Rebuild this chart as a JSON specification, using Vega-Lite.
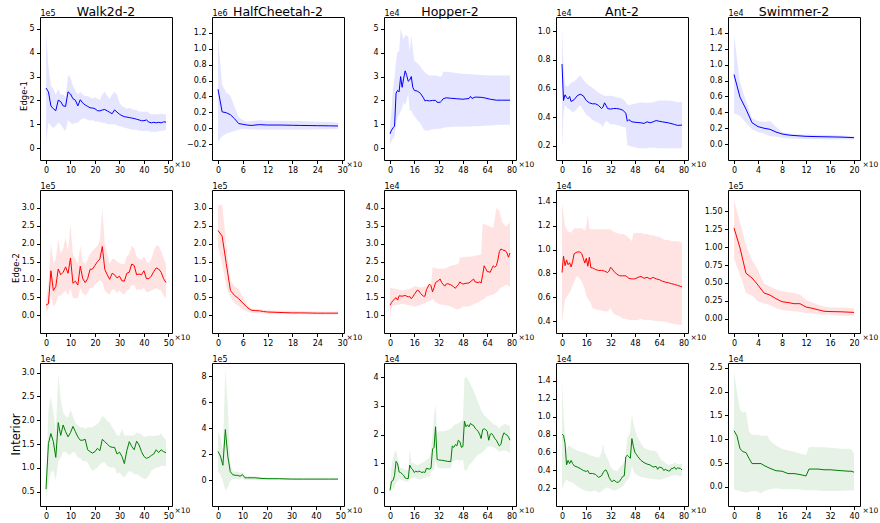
{
"$schema": "https://vega.github.io/schema/vega-lite/v6.json",
"padding": {"left": 9, "top": 5, "right": 0, "bottom": 0},
"config": {
 "font": "DejaVu Sans",
 "view": {"stroke": "#000", "strokeWidth": 1},
 "axis": {"grid": false, "domain": false, "tickColor": "#000", "tickSize": 3.5, "labelFontSize": 8, "labelColor": "#000", "labelPadding": 2.5, "labelFlush": false, "labelOverlap": false, "titleFontWeight": "normal", "titleColor": "#000", "labelFont": "DejaVu Sans", "titleFont": "DejaVu Sans"},
 "axisTop": {"labels": false, "ticks": false, "domain": false, "titleX": 0, "titleY": -2, "titleAlign": "left", "titleBaseline": "alphabetic", "titleAngle": 0, "titleFontSize": 8, "titlePadding": 0},
 "axisBottom": {"titleX": 134, "titleY": 6, "titleAlign": "left", "titleBaseline": "alphabetic", "titleAngle": 0, "titleFontSize": 7.5},
 "title": {"fontSize": 12.5, "fontWeight": "normal", "color": "#000", "font": "DejaVu Sans", "offset": -9}
},
"data": {"values": [
{"p":"w1","x":0,"y":2.52,"lo":0.24,"hi":4.79},{"p":"w1","x":1,"y":2.36,"lo":1.06,"hi":3.43},{"p":"w1","x":2,"y":1.77,"lo":0.95,"hi":2.6},{"p":"w1","x":3,"y":1.65,"lo":0.83,"hi":2.48},{"p":"w1","x":4,"y":1.57,"lo":0.95,"hi":2.25},{"p":"w1","x":5,"y":2.01,"lo":1.06,"hi":2.48},{"p":"w1","x":6,"y":1.95,"lo":1.0,"hi":2.25},{"p":"w1","x":7,"y":1.77,"lo":0.83,"hi":2.25},{"p":"w1","x":8,"y":1.75,"lo":0.71,"hi":2.13},{"p":"w1","x":9,"y":2.36,"lo":1.18,"hi":3.07},{"p":"w1","x":10,"y":2.27,"lo":1.06,"hi":2.95},{"p":"w1","x":11,"y":2.07,"lo":1.0,"hi":2.6},{"p":"w1","x":12,"y":2.01,"lo":1.06,"hi":2.42},{"p":"w1","x":13,"y":1.77,"lo":1.06,"hi":2.25},{"p":"w1","x":14,"y":2.03,"lo":1.18,"hi":2.36},{"p":"w1","x":15,"y":1.89,"lo":1.24,"hi":2.25},{"p":"w1","x":16,"y":1.81,"lo":1.24,"hi":2.19},{"p":"w1","x":17,"y":1.75,"lo":1.18,"hi":2.19},{"p":"w1","x":18,"y":1.69,"lo":1.16,"hi":2.13},{"p":"w1","x":19,"y":1.68,"lo":1.18,"hi":2.07},{"p":"w1","x":20,"y":1.65,"lo":1.12,"hi":2.13},{"p":"w1","x":21,"y":1.57,"lo":1.12,"hi":2.07},{"p":"w1","x":22,"y":1.56,"lo":1.09,"hi":2.03},{"p":"w1","x":23,"y":1.6,"lo":1.06,"hi":2.25},{"p":"w1","x":24,"y":1.62,"lo":1.06,"hi":2.36},{"p":"w1","x":25,"y":1.56,"lo":1.0,"hi":2.19},{"p":"w1","x":26,"y":1.5,"lo":1.0,"hi":2.07},{"p":"w1","x":27,"y":1.44,"lo":1.0,"hi":2.25},{"p":"w1","x":28,"y":1.6,"lo":1.0,"hi":2.36},{"p":"w1","x":29,"y":1.51,"lo":0.95,"hi":2.25},{"p":"w1","x":30,"y":1.42,"lo":0.92,"hi":1.89},{"p":"w1","x":31,"y":1.36,"lo":0.89,"hi":1.77},{"p":"w1","x":32,"y":1.32,"lo":0.85,"hi":1.71},{"p":"w1","x":33,"y":1.3,"lo":0.83,"hi":1.65},{"p":"w1","x":34,"y":1.28,"lo":0.8,"hi":1.68},{"p":"w1","x":35,"y":1.26,"lo":0.77,"hi":1.65},{"p":"w1","x":36,"y":1.24,"lo":0.77,"hi":1.6},{"p":"w1","x":37,"y":1.21,"lo":0.77,"hi":1.6},{"p":"w1","x":38,"y":1.18,"lo":0.73,"hi":1.54},{"p":"w1","x":39,"y":1.15,"lo":0.73,"hi":1.54},{"p":"w1","x":40,"y":1.15,"lo":0.71,"hi":1.51},{"p":"w1","x":41,"y":1.18,"lo":0.73,"hi":1.54},{"p":"w1","x":42,"y":1.09,"lo":0.71,"hi":1.48},{"p":"w1","x":43,"y":1.06,"lo":0.69,"hi":1.42},{"p":"w1","x":44,"y":1.08,"lo":0.69,"hi":1.42},{"p":"w1","x":45,"y":1.06,"lo":0.69,"hi":1.42},{"p":"w1","x":46,"y":1.08,"lo":0.71,"hi":1.42},{"p":"w1","x":47,"y":1.06,"lo":0.73,"hi":1.44},{"p":"w1","x":48,"y":1.1,"lo":0.73,"hi":1.42},{"p":"w1","x":49,"y":1.09,"lo":0.77,"hi":1.42},
{"p":"h1","x":0,"y":0.49,"lo":-0.17,"hi":1.13},{"p":"h1","x":1,"y":0.206,"lo":-0.1,"hi":0.55},{"p":"h1","x":2,"y":0.195,"lo":-0.07,"hi":0.45},{"p":"h1","x":3,"y":0.17,"lo":-0.05,"hi":0.41},{"p":"h1","x":4,"y":0.12,"lo":-0.035,"hi":0.27},{"p":"h1","x":5,"y":0.058,"lo":-0.02,"hi":0.14},{"p":"h1","x":6,"y":0.05,"lo":-0.01,"hi":0.1},{"p":"h1","x":7,"y":0.04,"lo":-0.012,"hi":0.085},{"p":"h1","x":8,"y":0.035,"lo":-0.015,"hi":0.09},{"p":"h1","x":10,"y":0.045,"lo":-0.02,"hi":0.1},{"p":"h1","x":12,"y":0.04,"lo":-0.02,"hi":0.095},{"p":"h1","x":15,"y":0.04,"lo":-0.02,"hi":0.095},{"p":"h1","x":18,"y":0.037,"lo":-0.02,"hi":0.092},{"p":"h1","x":20,"y":0.035,"lo":-0.02,"hi":0.09},{"p":"h1","x":24,"y":0.032,"lo":-0.015,"hi":0.082},{"p":"h1","x":27,"y":0.03,"lo":-0.013,"hi":0.077},{"p":"h1","x":29,"y":0.028,"lo":-0.01,"hi":0.07},
{"p":"p1","x":0,"y":0.6,"lo":0.16,"hi":0.9},{"p":"p1","x":1,"y":0.75,"lo":0.3,"hi":1.6},{"p":"p1","x":2,"y":0.85,"lo":0.41,"hi":2.5},{"p":"p1","x":3,"y":0.92,"lo":0.5,"hi":3.0},{"p":"p1","x":4,"y":2.3,"lo":1.0,"hi":3.68},{"p":"p1","x":5,"y":2.42,"lo":1.29,"hi":4.05},{"p":"p1","x":6,"y":2.36,"lo":1.4,"hi":4.05},{"p":"p1","x":7,"y":3.0,"lo":1.55,"hi":5.0},{"p":"p1","x":8,"y":2.55,"lo":1.7,"hi":4.8},{"p":"p1","x":9,"y":2.93,"lo":1.92,"hi":4.56},{"p":"p1","x":10,"y":3.24,"lo":1.8,"hi":4.75},{"p":"p1","x":11,"y":3.05,"lo":2.0,"hi":4.7},{"p":"p1","x":12,"y":2.8,"lo":2.3,"hi":4.69},{"p":"p1","x":13,"y":2.86,"lo":1.55,"hi":4.05},{"p":"p1","x":14,"y":3.0,"lo":1.6,"hi":4.75},{"p":"p1","x":15,"y":2.55,"lo":1.42,"hi":4.18},{"p":"p1","x":16,"y":2.42,"lo":1.35,"hi":3.68},{"p":"p1","x":18,"y":2.39,"lo":1.17,"hi":3.56},{"p":"p1","x":20,"y":2.3,"lo":1.04,"hi":3.43},{"p":"p1","x":22,"y":2.11,"lo":0.79,"hi":3.24},{"p":"p1","x":23,"y":1.98,"lo":0.75,"hi":3.18},{"p":"p1","x":24,"y":2.0,"lo":0.73,"hi":3.12},{"p":"p1","x":26,"y":1.98,"lo":0.75,"hi":3.05},{"p":"p1","x":28,"y":2.0,"lo":0.79,"hi":3.05},{"p":"p1","x":30,"y":2.0,"lo":0.8,"hi":3.05},{"p":"p1","x":31,"y":1.92,"lo":0.8,"hi":3.02},{"p":"p1","x":33,"y":1.92,"lo":0.82,"hi":3.0},{"p":"p1","x":34,"y":1.98,"lo":0.82,"hi":3.0},{"p":"p1","x":35,"y":2.07,"lo":0.85,"hi":3.2},{"p":"p1","x":37,"y":2.11,"lo":0.86,"hi":3.2},{"p":"p1","x":40,"y":2.09,"lo":0.89,"hi":3.18},{"p":"p1","x":44,"y":2.07,"lo":0.89,"hi":3.15},{"p":"p1","x":48,"y":2.05,"lo":0.9,"hi":3.12},{"p":"p1","x":52,"y":2.08,"lo":0.91,"hi":3.1},{"p":"p1","x":53,"y":2.17,"lo":0.91,"hi":3.1},{"p":"p1","x":54,"y":2.08,"lo":0.92,"hi":3.1},{"p":"p1","x":56,"y":2.14,"lo":0.92,"hi":3.08},{"p":"p1","x":60,"y":2.13,"lo":0.93,"hi":3.07},{"p":"p1","x":62,"y":2.11,"lo":0.94,"hi":3.06},{"p":"p1","x":66,"y":2.05,"lo":0.95,"hi":3.05},{"p":"p1","x":70,"y":2.01,"lo":0.97,"hi":3.05},{"p":"p1","x":74,"y":2.01,"lo":0.98,"hi":3.05},{"p":"p1","x":79,"y":2.01,"lo":0.98,"hi":3.05},
{"p":"a1","x":0,"y":0.771,"lo":0.17,"hi":1.02},{"p":"a1","x":1,"y":0.516,"lo":0.427,"hi":0.77},{"p":"a1","x":2,"y":0.556,"lo":0.482,"hi":0.627},{"p":"a1","x":3,"y":0.538,"lo":0.47,"hi":0.62},{"p":"a1","x":4,"y":0.527,"lo":0.46,"hi":0.616},{"p":"a1","x":5,"y":0.544,"lo":0.455,"hi":0.63},{"p":"a1","x":6,"y":0.509,"lo":0.44,"hi":0.64},{"p":"a1","x":8,"y":0.522,"lo":0.438,"hi":0.649},{"p":"a1","x":10,"y":0.549,"lo":0.46,"hi":0.67},{"p":"a1","x":12,"y":0.56,"lo":0.482,"hi":0.693},{"p":"a1","x":14,"y":0.549,"lo":0.45,"hi":0.66},{"p":"a1","x":16,"y":0.516,"lo":0.416,"hi":0.638},{"p":"a1","x":18,"y":0.5,"lo":0.4,"hi":0.62},{"p":"a1","x":20,"y":0.493,"lo":0.382,"hi":0.605},{"p":"a1","x":22,"y":0.493,"lo":0.37,"hi":0.59},{"p":"a1","x":24,"y":0.482,"lo":0.36,"hi":0.571},{"p":"a1","x":26,"y":0.46,"lo":0.345,"hi":0.56},{"p":"a1","x":27,"y":0.47,"lo":0.327,"hi":0.555},{"p":"a1","x":28,"y":0.5,"lo":0.36,"hi":0.549},{"p":"a1","x":29,"y":0.482,"lo":0.37,"hi":0.55},{"p":"a1","x":30,"y":0.46,"lo":0.37,"hi":0.549},{"p":"a1","x":32,"y":0.456,"lo":0.349,"hi":0.549},{"p":"a1","x":34,"y":0.46,"lo":0.35,"hi":0.545},{"p":"a1","x":36,"y":0.46,"lo":0.345,"hi":0.538},{"p":"a1","x":38,"y":0.456,"lo":0.34,"hi":0.533},{"p":"a1","x":40,"y":0.449,"lo":0.331,"hi":0.527},{"p":"a1","x":42,"y":0.427,"lo":0.327,"hi":0.505},{"p":"a1","x":43,"y":0.371,"lo":0.204,"hi":0.49},{"p":"a1","x":44,"y":0.382,"lo":0.2,"hi":0.482},{"p":"a1","x":46,"y":0.367,"lo":0.193,"hi":0.49},{"p":"a1","x":48,"y":0.364,"lo":0.19,"hi":0.493},{"p":"a1","x":50,"y":0.362,"lo":0.182,"hi":0.5},{"p":"a1","x":52,"y":0.36,"lo":0.182,"hi":0.504},{"p":"a1","x":54,"y":0.356,"lo":0.182,"hi":0.5},{"p":"a1","x":56,"y":0.367,"lo":0.182,"hi":0.5},{"p":"a1","x":58,"y":0.36,"lo":0.185,"hi":0.502},{"p":"a1","x":60,"y":0.367,"lo":0.185,"hi":0.504},{"p":"a1","x":62,"y":0.376,"lo":0.184,"hi":0.51},{"p":"a1","x":64,"y":0.371,"lo":0.182,"hi":0.516},{"p":"a1","x":66,"y":0.367,"lo":0.182,"hi":0.516},{"p":"a1","x":70,"y":0.36,"lo":0.182,"hi":0.516},{"p":"a1","x":74,"y":0.349,"lo":0.182,"hi":0.51},{"p":"a1","x":76,"y":0.342,"lo":0.182,"hi":0.504},{"p":"a1","x":79,"y":0.344,"lo":0.182,"hi":0.507},
{"p":"s1","x":0,"y":0.877,"lo":0.39,"hi":1.38},{"p":"s1","x":1,"y":0.59,"lo":0.354,"hi":0.78},{"p":"s1","x":2,"y":0.44,"lo":0.27,"hi":0.54},{"p":"s1","x":3,"y":0.27,"lo":0.186,"hi":0.33},{"p":"s1","x":4,"y":0.22,"lo":0.152,"hi":0.29},{"p":"s1","x":5,"y":0.2,"lo":0.135,"hi":0.28},{"p":"s1","x":6,"y":0.186,"lo":0.1,"hi":0.29},{"p":"s1","x":7,"y":0.152,"lo":0.095,"hi":0.22},{"p":"s1","x":8,"y":0.128,"lo":0.08,"hi":0.15},{"p":"s1","x":9,"y":0.115,"lo":0.072,"hi":0.138},{"p":"s1","x":10,"y":0.108,"lo":0.067,"hi":0.128},{"p":"s1","x":12,"y":0.098,"lo":0.063,"hi":0.12},{"p":"s1","x":14,"y":0.094,"lo":0.06,"hi":0.118},{"p":"s1","x":16,"y":0.091,"lo":0.059,"hi":0.115},{"p":"s1","x":18,"y":0.088,"lo":0.058,"hi":0.108},{"p":"s1","x":20,"y":0.081,"lo":0.057,"hi":0.1},
{"p":"w2","x":0,"y":0.28,"lo":0.1,"hi":0.39},{"p":"w2","x":1,"y":0.32,"lo":0.17,"hi":0.91},{"p":"w2","x":2,"y":1.24,"lo":0.54,"hi":2.02},{"p":"w2","x":3,"y":0.69,"lo":0.24,"hi":1.43},{"p":"w2","x":4,"y":0.8,"lo":0.32,"hi":1.57},{"p":"w2","x":5,"y":1.29,"lo":0.54,"hi":2.13},{"p":"w2","x":6,"y":1.13,"lo":0.54,"hi":1.72},{"p":"w2","x":7,"y":1.2,"lo":0.61,"hi":1.87},{"p":"w2","x":8,"y":1.35,"lo":0.69,"hi":2.17},{"p":"w2","x":9,"y":1.17,"lo":0.54,"hi":1.8},{"p":"w2","x":10,"y":1.6,"lo":0.76,"hi":2.54},{"p":"w2","x":11,"y":0.89,"lo":0.47,"hi":1.72},{"p":"w2","x":12,"y":0.95,"lo":0.47,"hi":1.57},{"p":"w2","x":13,"y":0.84,"lo":0.47,"hi":1.43},{"p":"w2","x":14,"y":1.37,"lo":0.76,"hi":1.94},{"p":"w2","x":15,"y":1.02,"lo":0.61,"hi":1.5},{"p":"w2","x":16,"y":0.91,"lo":0.54,"hi":1.43},{"p":"w2","x":17,"y":1.02,"lo":0.61,"hi":1.57},{"p":"w2","x":18,"y":1.28,"lo":0.76,"hi":1.72},{"p":"w2","x":19,"y":1.29,"lo":0.76,"hi":1.8},{"p":"w2","x":20,"y":1.39,"lo":0.84,"hi":1.87},{"p":"w2","x":21,"y":1.5,"lo":0.91,"hi":1.94},{"p":"w2","x":22,"y":1.57,"lo":0.98,"hi":2.09},{"p":"w2","x":23,"y":1.92,"lo":0.91,"hi":2.98},{"p":"w2","x":24,"y":1.28,"lo":0.69,"hi":2.02},{"p":"w2","x":25,"y":1.13,"lo":0.61,"hi":1.72},{"p":"w2","x":26,"y":1.0,"lo":0.58,"hi":1.43},{"p":"w2","x":27,"y":1.17,"lo":0.72,"hi":1.57},{"p":"w2","x":28,"y":1.13,"lo":0.72,"hi":1.57},{"p":"w2","x":29,"y":1.04,"lo":0.61,"hi":1.5},{"p":"w2","x":30,"y":1.09,"lo":0.69,"hi":1.46},{"p":"w2","x":31,"y":0.96,"lo":0.61,"hi":1.43},{"p":"w2","x":32,"y":0.95,"lo":0.58,"hi":1.43},{"p":"w2","x":33,"y":1.17,"lo":0.69,"hi":1.65},{"p":"w2","x":34,"y":1.2,"lo":0.72,"hi":1.72},{"p":"w2","x":35,"y":1.43,"lo":0.84,"hi":1.94},{"p":"w2","x":36,"y":1.39,"lo":0.84,"hi":1.87},{"p":"w2","x":37,"y":1.13,"lo":0.69,"hi":1.65},{"p":"w2","x":38,"y":1.15,"lo":0.72,"hi":1.57},{"p":"w2","x":39,"y":1.13,"lo":0.72,"hi":1.54},{"p":"w2","x":40,"y":1.24,"lo":0.76,"hi":1.65},{"p":"w2","x":41,"y":1.02,"lo":0.65,"hi":1.5},{"p":"w2","x":42,"y":1.02,"lo":0.65,"hi":1.46},{"p":"w2","x":43,"y":1.09,"lo":0.69,"hi":1.57},{"p":"w2","x":44,"y":1.22,"lo":0.72,"hi":1.8},{"p":"w2","x":45,"y":1.32,"lo":0.76,"hi":1.95},{"p":"w2","x":46,"y":1.29,"lo":0.72,"hi":1.95},{"p":"w2","x":47,"y":1.2,"lo":0.69,"hi":1.8},{"p":"w2","x":48,"y":1.02,"lo":0.54,"hi":1.6},{"p":"w2","x":49,"y":0.91,"lo":0.47,"hi":1.43},
{"p":"h2","x":0,"y":2.37,"lo":1.92,"hi":3.06},{"p":"h2","x":1,"y":2.21,"lo":1.44,"hi":3.1},{"p":"h2","x":2,"y":1.44,"lo":0.81,"hi":2.0},{"p":"h2","x":3,"y":0.69,"lo":0.5,"hi":0.97},{"p":"h2","x":4,"y":0.55,"lo":0.34,"hi":0.81},{"p":"h2","x":5,"y":0.46,"lo":0.245,"hi":0.73},{"p":"h2","x":6,"y":0.34,"lo":0.166,"hi":0.5},{"p":"h2","x":7,"y":0.22,"lo":0.1,"hi":0.3},{"p":"h2","x":8,"y":0.14,"lo":0.063,"hi":0.18},{"p":"h2","x":9,"y":0.126,"lo":0.055,"hi":0.17},{"p":"h2","x":10,"y":0.12,"lo":0.047,"hi":0.166},{"p":"h2","x":11,"y":0.1,"lo":0.045,"hi":0.15},{"p":"h2","x":12,"y":0.087,"lo":0.04,"hi":0.14},{"p":"h2","x":14,"y":0.079,"lo":0.035,"hi":0.13},{"p":"h2","x":16,"y":0.07,"lo":0.03,"hi":0.125},{"p":"h2","x":18,"y":0.063,"lo":0.027,"hi":0.12},{"p":"h2","x":20,"y":0.063,"lo":0.024,"hi":0.118},{"p":"h2","x":24,"y":0.055,"lo":0.02,"hi":0.1},{"p":"h2","x":26,"y":0.055,"lo":0.018,"hi":0.1},{"p":"h2","x":29,"y":0.055,"lo":0.016,"hi":0.1},
{"p":"p2","x":0,"y":1.28,"lo":0.88,"hi":1.77},{"p":"p2","x":1,"y":1.35,"lo":1.24,"hi":1.76},{"p":"p2","x":2,"y":1.41,"lo":1.26,"hi":1.75},{"p":"p2","x":4,"y":1.49,"lo":1.28,"hi":1.73},{"p":"p2","x":5,"y":1.42,"lo":1.28,"hi":1.72},{"p":"p2","x":6,"y":1.54,"lo":1.3,"hi":1.72},{"p":"p2","x":8,"y":1.53,"lo":1.32,"hi":1.69},{"p":"p2","x":10,"y":1.55,"lo":1.3,"hi":1.7},{"p":"p2","x":12,"y":1.51,"lo":1.28,"hi":1.73},{"p":"p2","x":13,"y":1.52,"lo":1.27,"hi":1.74},{"p":"p2","x":14,"y":1.46,"lo":1.26,"hi":1.76},{"p":"p2","x":15,"y":1.51,"lo":1.25,"hi":1.78},{"p":"p2","x":16,"y":1.58,"lo":1.24,"hi":1.81},{"p":"p2","x":18,"y":1.7,"lo":1.25,"hi":1.8},{"p":"p2","x":19,"y":1.68,"lo":1.26,"hi":1.79},{"p":"p2","x":20,"y":1.61,"lo":1.28,"hi":1.77},{"p":"p2","x":22,"y":1.53,"lo":1.32,"hi":1.79},{"p":"p2","x":23,"y":1.53,"lo":1.34,"hi":1.8},{"p":"p2","x":24,"y":1.71,"lo":1.36,"hi":1.81},{"p":"p2","x":26,"y":1.87,"lo":1.4,"hi":1.83},{"p":"p2","x":27,"y":1.82,"lo":1.42,"hi":1.85},{"p":"p2","x":28,"y":1.65,"lo":1.45,"hi":2.34},{"p":"p2","x":29,"y":1.77,"lo":1.4,"hi":2.33},{"p":"p2","x":30,"y":1.91,"lo":1.36,"hi":2.31},{"p":"p2","x":32,"y":1.97,"lo":1.32,"hi":2.3},{"p":"p2","x":33,"y":2.01,"lo":1.3,"hi":2.3},{"p":"p2","x":34,"y":1.91,"lo":1.29,"hi":2.3},{"p":"p2","x":36,"y":1.81,"lo":1.28,"hi":2.3},{"p":"p2","x":37,"y":1.87,"lo":1.27,"hi":2.32},{"p":"p2","x":38,"y":1.88,"lo":1.26,"hi":2.34},{"p":"p2","x":40,"y":1.85,"lo":1.24,"hi":2.38},{"p":"p2","x":42,"y":1.79,"lo":1.2,"hi":2.4},{"p":"p2","x":43,"y":1.75,"lo":1.18,"hi":2.41},{"p":"p2","x":44,"y":1.81,"lo":1.16,"hi":2.42},{"p":"p2","x":45,"y":1.85,"lo":1.17,"hi":2.42},{"p":"p2","x":46,"y":1.93,"lo":1.18,"hi":2.62},{"p":"p2","x":47,"y":1.89,"lo":1.2,"hi":2.62},{"p":"p2","x":48,"y":1.87,"lo":1.24,"hi":2.62},{"p":"p2","x":50,"y":1.89,"lo":1.24,"hi":2.63},{"p":"p2","x":52,"y":1.9,"lo":1.24,"hi":2.63},{"p":"p2","x":54,"y":1.97,"lo":1.28,"hi":2.64},{"p":"p2","x":55,"y":2.01,"lo":1.3,"hi":2.65},{"p":"p2","x":56,"y":1.93,"lo":1.32,"hi":2.66},{"p":"p2","x":58,"y":1.91,"lo":1.36,"hi":2.68},{"p":"p2","x":59,"y":1.93,"lo":1.38,"hi":2.69},{"p":"p2","x":60,"y":1.9,"lo":1.41,"hi":2.7},{"p":"p2","x":61,"y":2.13,"lo":1.43,"hi":3.55},{"p":"p2","x":62,"y":2.38,"lo":1.45,"hi":3.55},{"p":"p2","x":63,"y":2.3,"lo":1.5,"hi":3.53},{"p":"p2","x":64,"y":2.22,"lo":1.53,"hi":3.51},{"p":"p2","x":66,"y":2.2,"lo":1.55,"hi":3.48},{"p":"p2","x":67,"y":2.3,"lo":1.56,"hi":3.46},{"p":"p2","x":68,"y":2.38,"lo":1.57,"hi":3.45},{"p":"p2","x":69,"y":2.34,"lo":1.6,"hi":3.7},{"p":"p2","x":70,"y":2.38,"lo":1.63,"hi":4.0},{"p":"p2","x":71,"y":2.54,"lo":1.67,"hi":3.96},{"p":"p2","x":72,"y":2.78,"lo":1.73,"hi":3.92},{"p":"p2","x":73,"y":2.85,"lo":1.76,"hi":3.76},{"p":"p2","x":74,"y":2.83,"lo":1.79,"hi":3.6},{"p":"p2","x":75,"y":2.81,"lo":1.81,"hi":3.55},{"p":"p2","x":76,"y":2.8,"lo":1.85,"hi":3.47},{"p":"p2","x":77,"y":2.74,"lo":1.84,"hi":3.5},{"p":"p2","x":78,"y":2.62,"lo":1.81,"hi":3.55},{"p":"p2","x":79,"y":2.74,"lo":1.81,"hi":3.6},
{"p":"a2","x":0,"y":0.807,"lo":0.38,"hi":1.39},{"p":"a2","x":1,"y":0.945,"lo":0.49,"hi":1.3},{"p":"a2","x":2,"y":0.865,"lo":0.58,"hi":1.2},{"p":"a2","x":3,"y":0.913,"lo":0.6,"hi":1.17},{"p":"a2","x":4,"y":0.873,"lo":0.62,"hi":1.15},{"p":"a2","x":5,"y":0.89,"lo":0.64,"hi":1.15},{"p":"a2","x":6,"y":0.855,"lo":0.66,"hi":1.14},{"p":"a2","x":7,"y":0.9,"lo":0.7,"hi":1.16},{"p":"a2","x":8,"y":0.966,"lo":0.73,"hi":1.18},{"p":"a2","x":10,"y":0.98,"lo":0.78,"hi":1.18},{"p":"a2","x":12,"y":0.98,"lo":0.75,"hi":1.18},{"p":"a2","x":13,"y":0.966,"lo":0.73,"hi":1.18},{"p":"a2","x":14,"y":0.927,"lo":0.7,"hi":1.17},{"p":"a2","x":15,"y":0.887,"lo":0.66,"hi":1.16},{"p":"a2","x":16,"y":0.927,"lo":0.61,"hi":1.2},{"p":"a2","x":17,"y":0.86,"lo":0.59,"hi":1.3},{"p":"a2","x":18,"y":0.935,"lo":0.57,"hi":1.18},{"p":"a2","x":19,"y":0.847,"lo":0.55,"hi":1.17},{"p":"a2","x":20,"y":0.847,"lo":0.51,"hi":1.17},{"p":"a2","x":22,"y":0.833,"lo":0.5,"hi":1.17},{"p":"a2","x":24,"y":0.825,"lo":0.49,"hi":1.17},{"p":"a2","x":26,"y":0.825,"lo":0.49,"hi":1.17},{"p":"a2","x":28,"y":0.82,"lo":0.48,"hi":1.17},{"p":"a2","x":30,"y":0.807,"lo":0.48,"hi":1.17},{"p":"a2","x":31,"y":0.82,"lo":0.49,"hi":1.17},{"p":"a2","x":32,"y":0.852,"lo":0.51,"hi":1.17},{"p":"a2","x":33,"y":0.838,"lo":0.48,"hi":1.16},{"p":"a2","x":34,"y":0.82,"lo":0.46,"hi":1.15},{"p":"a2","x":36,"y":0.794,"lo":0.45,"hi":1.14},{"p":"a2","x":38,"y":0.78,"lo":0.44,"hi":1.13},{"p":"a2","x":40,"y":0.78,"lo":0.42,"hi":1.13},{"p":"a2","x":42,"y":0.78,"lo":0.42,"hi":1.12},{"p":"a2","x":44,"y":0.759,"lo":0.41,"hi":1.1},{"p":"a2","x":46,"y":0.754,"lo":0.41,"hi":1.07},{"p":"a2","x":47,"y":0.754,"lo":0.41,"hi":1.14},{"p":"a2","x":48,"y":0.754,"lo":0.41,"hi":1.14},{"p":"a2","x":50,"y":0.767,"lo":0.41,"hi":1.14},{"p":"a2","x":52,"y":0.775,"lo":0.42,"hi":1.14},{"p":"a2","x":54,"y":0.759,"lo":0.41,"hi":1.13},{"p":"a2","x":56,"y":0.767,"lo":0.41,"hi":1.13},{"p":"a2","x":58,"y":0.754,"lo":0.41,"hi":1.12},{"p":"a2","x":60,"y":0.767,"lo":0.405,"hi":1.12},{"p":"a2","x":62,"y":0.754,"lo":0.4,"hi":1.11},{"p":"a2","x":64,"y":0.748,"lo":0.4,"hi":1.11},{"p":"a2","x":66,"y":0.735,"lo":0.397,"hi":1.09},{"p":"a2","x":68,"y":0.727,"lo":0.395,"hi":1.08},{"p":"a2","x":70,"y":0.722,"lo":0.385,"hi":1.08},{"p":"a2","x":72,"y":0.714,"lo":0.38,"hi":1.07},{"p":"a2","x":74,"y":0.708,"lo":0.375,"hi":1.07},{"p":"a2","x":76,"y":0.7,"lo":0.37,"hi":1.07},{"p":"a2","x":79,"y":0.687,"lo":0.37,"hi":1.06},
{"p":"s2","x":0,"y":1.27,"lo":0.84,"hi":1.66},{"p":"s2","x":1,"y":0.99,"lo":0.61,"hi":1.35},{"p":"s2","x":2,"y":0.635,"lo":0.36,"hi":1.03},{"p":"s2","x":3,"y":0.57,"lo":0.32,"hi":0.82},{"p":"s2","x":4,"y":0.47,"lo":0.24,"hi":0.68},{"p":"s2","x":5,"y":0.36,"lo":0.217,"hi":0.49},{"p":"s2","x":6,"y":0.33,"lo":0.188,"hi":0.45},{"p":"s2","x":7,"y":0.28,"lo":0.146,"hi":0.41},{"p":"s2","x":8,"y":0.238,"lo":0.121,"hi":0.385},{"p":"s2","x":9,"y":0.226,"lo":0.11,"hi":0.37},{"p":"s2","x":10,"y":0.21,"lo":0.104,"hi":0.36},{"p":"s2","x":11,"y":0.21,"lo":0.095,"hi":0.34},{"p":"s2","x":12,"y":0.163,"lo":0.08,"hi":0.26},{"p":"s2","x":13,"y":0.146,"lo":0.072,"hi":0.23},{"p":"s2","x":14,"y":0.125,"lo":0.063,"hi":0.196},{"p":"s2","x":15,"y":0.104,"lo":0.056,"hi":0.17},{"p":"s2","x":16,"y":0.1,"lo":0.05,"hi":0.155},{"p":"s2","x":18,"y":0.096,"lo":0.043,"hi":0.155},{"p":"s2","x":20,"y":0.088,"lo":0.038,"hi":0.146},
{"p":"w3","x":0,"y":0.555,"lo":0.33,"hi":0.7},{"p":"w3","x":1,"y":1.51,"lo":0.67,"hi":2.22},{"p":"w3","x":2,"y":1.72,"lo":0.91,"hi":2.49},{"p":"w3","x":3,"y":1.55,"lo":0.94,"hi":2.16},{"p":"w3","x":4,"y":1.22,"lo":0.74,"hi":1.75},{"p":"w3","x":5,"y":1.95,"lo":1.14,"hi":2.97},{"p":"w3","x":6,"y":1.68,"lo":1.21,"hi":2.43},{"p":"w3","x":7,"y":1.9,"lo":1.34,"hi":2.16},{"p":"w3","x":8,"y":1.76,"lo":1.34,"hi":2.09},{"p":"w3","x":9,"y":1.65,"lo":1.28,"hi":2.05},{"p":"w3","x":10,"y":1.74,"lo":1.28,"hi":2.22},{"p":"w3","x":11,"y":1.87,"lo":1.34,"hi":2.09},{"p":"w3","x":12,"y":1.76,"lo":1.31,"hi":1.95},{"p":"w3","x":13,"y":1.65,"lo":1.21,"hi":1.89},{"p":"w3","x":14,"y":1.58,"lo":1.21,"hi":1.85},{"p":"w3","x":15,"y":1.58,"lo":1.14,"hi":1.85},{"p":"w3","x":16,"y":1.6,"lo":1.14,"hi":1.82},{"p":"w3","x":17,"y":1.38,"lo":1.11,"hi":1.85},{"p":"w3","x":18,"y":1.34,"lo":1.01,"hi":1.85},{"p":"w3","x":19,"y":1.31,"lo":0.94,"hi":1.85},{"p":"w3","x":20,"y":1.34,"lo":0.97,"hi":1.89},{"p":"w3","x":21,"y":1.41,"lo":1.01,"hi":1.92},{"p":"w3","x":22,"y":1.36,"lo":1.07,"hi":1.99},{"p":"w3","x":23,"y":1.6,"lo":1.11,"hi":2.09},{"p":"w3","x":24,"y":1.55,"lo":1.11,"hi":2.05},{"p":"w3","x":25,"y":1.5,"lo":1.04,"hi":1.99},{"p":"w3","x":26,"y":1.45,"lo":1.01,"hi":1.95},{"p":"w3","x":27,"y":1.43,"lo":1.01,"hi":1.85},{"p":"w3","x":28,"y":1.43,"lo":1.01,"hi":1.78},{"p":"w3","x":29,"y":1.29,"lo":0.87,"hi":1.68},{"p":"w3","x":30,"y":1.33,"lo":0.91,"hi":1.68},{"p":"w3","x":31,"y":1.24,"lo":0.84,"hi":1.82},{"p":"w3","x":32,"y":1.09,"lo":0.8,"hi":1.68},{"p":"w3","x":33,"y":1.36,"lo":0.87,"hi":1.68},{"p":"w3","x":34,"y":1.55,"lo":0.94,"hi":1.68},{"p":"w3","x":35,"y":1.45,"lo":0.91,"hi":1.68},{"p":"w3","x":36,"y":1.38,"lo":0.87,"hi":1.68},{"p":"w3","x":37,"y":1.56,"lo":0.87,"hi":1.74},{"p":"w3","x":38,"y":1.48,"lo":0.84,"hi":1.72},{"p":"w3","x":39,"y":1.34,"lo":0.8,"hi":1.7},{"p":"w3","x":40,"y":1.24,"lo":0.77,"hi":1.65},{"p":"w3","x":41,"y":1.2,"lo":0.77,"hi":1.66},{"p":"w3","x":42,"y":1.22,"lo":0.84,"hi":1.68},{"p":"w3","x":43,"y":1.26,"lo":0.94,"hi":1.67},{"p":"w3","x":44,"y":1.29,"lo":0.97,"hi":1.67},{"p":"w3","x":45,"y":1.38,"lo":1.01,"hi":1.68},{"p":"w3","x":46,"y":1.32,"lo":1.01,"hi":1.68},{"p":"w3","x":47,"y":1.38,"lo":1.04,"hi":1.72},{"p":"w3","x":48,"y":1.34,"lo":1.04,"hi":1.65},{"p":"w3","x":49,"y":1.32,"lo":1.04,"hi":1.58},
{"p":"h3","x":0,"y":2.2,"lo":0.65,"hi":3.76},{"p":"h3","x":1,"y":1.84,"lo":0.41,"hi":3.28},{"p":"h3","x":2,"y":1.13,"lo":-0.07,"hi":2.32},{"p":"h3","x":3,"y":3.88,"lo":-0.79,"hi":8.55},{"p":"h3","x":4,"y":1.84,"lo":-0.55,"hi":5.68},{"p":"h3","x":5,"y":0.65,"lo":-0.07,"hi":1.37},{"p":"h3","x":6,"y":0.41,"lo":0.05,"hi":0.65},{"p":"h3","x":7,"y":0.36,"lo":0.05,"hi":0.65},{"p":"h3","x":8,"y":0.36,"lo":0.05,"hi":0.65},{"p":"h3","x":9,"y":0.29,"lo":0.04,"hi":0.53},{"p":"h3","x":10,"y":0.41,"lo":0.17,"hi":0.6},{"p":"h3","x":11,"y":0.17,"lo":0.0,"hi":0.35},{"p":"h3","x":12,"y":0.17,"lo":0.0,"hi":0.29},{"p":"h3","x":15,"y":0.17,"lo":0.0,"hi":0.29},{"p":"h3","x":18,"y":0.12,"lo":0.0,"hi":0.22},{"p":"h3","x":20,"y":0.1,"lo":0.0,"hi":0.22},{"p":"h3","x":25,"y":0.1,"lo":0.0,"hi":0.17},{"p":"h3","x":30,"y":0.07,"lo":0.0,"hi":0.17},{"p":"h3","x":35,"y":0.07,"lo":0.0,"hi":0.12},{"p":"h3","x":40,"y":0.07,"lo":0.0,"hi":0.12},{"p":"h3","x":45,"y":0.07,"lo":0.0,"hi":0.12},{"p":"h3","x":49,"y":0.07,"lo":0.0,"hi":0.12},
{"p":"p3","x":0,"y":0.05,"lo":0.0,"hi":0.2},{"p":"p3","x":1,"y":0.36,"lo":0.1,"hi":0.88},{"p":"p3","x":2,"y":0.39,"lo":0.1,"hi":1.19},{"p":"p3","x":3,"y":0.57,"lo":0.15,"hi":1.39},{"p":"p3","x":4,"y":1.06,"lo":0.31,"hi":1.44},{"p":"p3","x":5,"y":0.98,"lo":0.36,"hi":1.19},{"p":"p3","x":6,"y":0.69,"lo":0.46,"hi":0.88},{"p":"p3","x":7,"y":0.67,"lo":0.43,"hi":0.85},{"p":"p3","x":8,"y":0.62,"lo":0.41,"hi":0.82},{"p":"p3","x":9,"y":0.57,"lo":0.38,"hi":0.8},{"p":"p3","x":10,"y":0.48,"lo":0.36,"hi":0.77},{"p":"p3","x":11,"y":0.46,"lo":0.36,"hi":0.77},{"p":"p3","x":12,"y":0.46,"lo":0.36,"hi":0.77},{"p":"p3","x":13,"y":0.93,"lo":0.46,"hi":1.49},{"p":"p3","x":14,"y":0.82,"lo":0.46,"hi":1.03},{"p":"p3","x":15,"y":0.77,"lo":0.48,"hi":1.0},{"p":"p3","x":16,"y":0.67,"lo":0.52,"hi":0.98},{"p":"p3","x":17,"y":0.72,"lo":0.48,"hi":0.95},{"p":"p3","x":18,"y":0.69,"lo":0.44,"hi":0.93},{"p":"p3","x":19,"y":0.72,"lo":0.43,"hi":0.95},{"p":"p3","x":20,"y":0.7,"lo":0.43,"hi":0.98},{"p":"p3","x":21,"y":0.67,"lo":0.45,"hi":1.0},{"p":"p3","x":22,"y":0.69,"lo":0.46,"hi":1.03},{"p":"p3","x":23,"y":0.67,"lo":0.48,"hi":1.06},{"p":"p3","x":24,"y":0.82,"lo":0.52,"hi":1.13},{"p":"p3","x":25,"y":0.8,"lo":0.52,"hi":1.15},{"p":"p3","x":26,"y":0.79,"lo":0.52,"hi":1.19},{"p":"p3","x":27,"y":0.82,"lo":0.67,"hi":1.39},{"p":"p3","x":28,"y":1.49,"lo":0.72,"hi":2.01},{"p":"p3","x":29,"y":1.55,"lo":0.77,"hi":2.68},{"p":"p3","x":30,"y":2.27,"lo":1.08,"hi":3.04},{"p":"p3","x":31,"y":1.13,"lo":0.88,"hi":2.06},{"p":"p3","x":32,"y":1.11,"lo":0.82,"hi":2.11},{"p":"p3","x":34,"y":1.1,"lo":0.82,"hi":2.11},{"p":"p3","x":36,"y":1.08,"lo":0.82,"hi":2.11},{"p":"p3","x":38,"y":1.06,"lo":0.82,"hi":2.16},{"p":"p3","x":40,"y":1.05,"lo":0.82,"hi":2.2},{"p":"p3","x":41,"y":1.6,"lo":1.03,"hi":2.25},{"p":"p3","x":42,"y":1.55,"lo":1.08,"hi":2.32},{"p":"p3","x":43,"y":1.65,"lo":1.1,"hi":2.35},{"p":"p3","x":44,"y":1.6,"lo":1.13,"hi":2.37},{"p":"p3","x":45,"y":1.8,"lo":1.1,"hi":2.4},{"p":"p3","x":46,"y":1.75,"lo":1.08,"hi":2.42},{"p":"p3","x":47,"y":1.55,"lo":1.1,"hi":2.47},{"p":"p3","x":48,"y":1.58,"lo":1.13,"hi":2.53},{"p":"p3","x":49,"y":2.47,"lo":0.77,"hi":3.97},{"p":"p3","x":50,"y":2.27,"lo":0.72,"hi":4.02},{"p":"p3","x":51,"y":2.34,"lo":0.8,"hi":3.95},{"p":"p3","x":52,"y":2.27,"lo":0.93,"hi":3.87},{"p":"p3","x":53,"y":2.39,"lo":0.98,"hi":3.76},{"p":"p3","x":54,"y":2.34,"lo":1.03,"hi":3.66},{"p":"p3","x":55,"y":2.32,"lo":1.1,"hi":3.53},{"p":"p3","x":56,"y":2.22,"lo":1.19,"hi":3.4},{"p":"p3","x":57,"y":2.17,"lo":1.24,"hi":3.27},{"p":"p3","x":58,"y":2.11,"lo":1.29,"hi":3.14},{"p":"p3","x":59,"y":2.01,"lo":1.32,"hi":2.99},{"p":"p3","x":60,"y":1.86,"lo":1.34,"hi":2.84},{"p":"p3","x":61,"y":2.17,"lo":1.39,"hi":2.76},{"p":"p3","x":62,"y":2.2,"lo":1.44,"hi":2.68},{"p":"p3","x":63,"y":2.17,"lo":1.5,"hi":2.63},{"p":"p3","x":64,"y":2.11,"lo":1.55,"hi":2.58},{"p":"p3","x":65,"y":1.8,"lo":1.58,"hi":2.52},{"p":"p3","x":66,"y":2.01,"lo":1.6,"hi":2.47},{"p":"p3","x":67,"y":2.03,"lo":1.58,"hi":2.42},{"p":"p3","x":68,"y":1.96,"lo":1.55,"hi":2.37},{"p":"p3","x":69,"y":1.86,"lo":1.52,"hi":2.34},{"p":"p3","x":70,"y":1.8,"lo":1.49,"hi":2.32},{"p":"p3","x":71,"y":1.7,"lo":1.44,"hi":2.27},{"p":"p3","x":72,"y":1.6,"lo":1.39,"hi":2.22},{"p":"p3","x":73,"y":1.65,"lo":1.41,"hi":2.27},{"p":"p3","x":74,"y":1.91,"lo":1.44,"hi":2.32},{"p":"p3","x":75,"y":2.06,"lo":1.44,"hi":2.35},{"p":"p3","x":76,"y":2.01,"lo":1.44,"hi":2.37},{"p":"p3","x":77,"y":1.98,"lo":1.42,"hi":2.34},{"p":"p3","x":78,"y":1.91,"lo":1.39,"hi":2.32},{"p":"p3","x":79,"y":1.8,"lo":1.34,"hi":2.27},
{"p":"a3","x":0,"y":0.803,"lo":0.175,"hi":1.4},{"p":"a3","x":1,"y":0.79,"lo":0.24,"hi":1.03},{"p":"a3","x":2,"y":0.7,"lo":0.27,"hi":0.76},{"p":"a3","x":3,"y":0.46,"lo":0.3,"hi":0.63},{"p":"a3","x":4,"y":0.51,"lo":0.28,"hi":0.67},{"p":"a3","x":5,"y":0.475,"lo":0.27,"hi":0.67},{"p":"a3","x":6,"y":0.51,"lo":0.27,"hi":0.66},{"p":"a3","x":7,"y":0.475,"lo":0.26,"hi":0.65},{"p":"a3","x":8,"y":0.45,"lo":0.25,"hi":0.64},{"p":"a3","x":10,"y":0.436,"lo":0.22,"hi":0.62},{"p":"a3","x":12,"y":0.42,"lo":0.2,"hi":0.61},{"p":"a3","x":14,"y":0.397,"lo":0.18,"hi":0.6},{"p":"a3","x":16,"y":0.387,"lo":0.167,"hi":0.59},{"p":"a3","x":17,"y":0.397,"lo":0.165,"hi":0.58},{"p":"a3","x":18,"y":0.364,"lo":0.16,"hi":0.57},{"p":"a3","x":20,"y":0.364,"lo":0.165,"hi":0.56},{"p":"a3","x":22,"y":0.354,"lo":0.175,"hi":0.55},{"p":"a3","x":23,"y":0.338,"lo":0.16,"hi":0.545},{"p":"a3","x":24,"y":0.321,"lo":0.148,"hi":0.54},{"p":"a3","x":25,"y":0.328,"lo":0.155,"hi":0.56},{"p":"a3","x":26,"y":0.338,"lo":0.165,"hi":0.6},{"p":"a3","x":27,"y":0.37,"lo":0.18,"hi":0.7},{"p":"a3","x":28,"y":0.397,"lo":0.19,"hi":0.6},{"p":"a3","x":29,"y":0.403,"lo":0.2,"hi":0.56},{"p":"a3","x":30,"y":0.37,"lo":0.21,"hi":0.535},{"p":"a3","x":31,"y":0.321,"lo":0.2,"hi":0.49},{"p":"a3","x":32,"y":0.29,"lo":0.19,"hi":0.436},{"p":"a3","x":33,"y":0.27,"lo":0.18,"hi":0.42},{"p":"a3","x":34,"y":0.29,"lo":0.175,"hi":0.403},{"p":"a3","x":35,"y":0.279,"lo":0.175,"hi":0.4},{"p":"a3","x":36,"y":0.266,"lo":0.18,"hi":0.39},{"p":"a3","x":37,"y":0.266,"lo":0.19,"hi":0.4},{"p":"a3","x":38,"y":0.279,"lo":0.2,"hi":0.436},{"p":"a3","x":39,"y":0.305,"lo":0.21,"hi":0.45},{"p":"a3","x":40,"y":0.331,"lo":0.22,"hi":0.469},{"p":"a3","x":41,"y":0.338,"lo":0.24,"hi":0.5},{"p":"a3","x":42,"y":0.551,"lo":0.27,"hi":0.6},{"p":"a3","x":43,"y":0.567,"lo":0.29,"hi":0.76},{"p":"a3","x":44,"y":0.551,"lo":0.305,"hi":0.8},{"p":"a3","x":45,"y":0.534,"lo":0.35,"hi":0.83},{"p":"a3","x":46,"y":0.754,"lo":0.45,"hi":1.03},{"p":"a3","x":47,"y":0.666,"lo":0.4,"hi":0.93},{"p":"a3","x":48,"y":0.6,"lo":0.37,"hi":0.86},{"p":"a3","x":49,"y":0.577,"lo":0.35,"hi":0.8},{"p":"a3","x":50,"y":0.551,"lo":0.34,"hi":0.76},{"p":"a3","x":52,"y":0.51,"lo":0.325,"hi":0.7},{"p":"a3","x":54,"y":0.485,"lo":0.318,"hi":0.65},{"p":"a3","x":56,"y":0.469,"lo":0.31,"hi":0.636},{"p":"a3","x":58,"y":0.459,"lo":0.305,"hi":0.62},{"p":"a3","x":60,"y":0.436,"lo":0.3,"hi":0.62},{"p":"a3","x":62,"y":0.443,"lo":0.298,"hi":0.61},{"p":"a3","x":63,"y":0.41,"lo":0.297,"hi":0.59},{"p":"a3","x":64,"y":0.436,"lo":0.295,"hi":0.551},{"p":"a3","x":66,"y":0.426,"lo":0.3,"hi":0.505},{"p":"a3","x":67,"y":0.397,"lo":0.305,"hi":0.5},{"p":"a3","x":68,"y":0.41,"lo":0.31,"hi":0.48},{"p":"a3","x":70,"y":0.393,"lo":0.325,"hi":0.46},{"p":"a3","x":71,"y":0.393,"lo":0.33,"hi":0.463},{"p":"a3","x":72,"y":0.42,"lo":0.338,"hi":0.466},{"p":"a3","x":73,"y":0.42,"lo":0.34,"hi":0.47},{"p":"a3","x":74,"y":0.436,"lo":0.348,"hi":0.485},{"p":"a3","x":75,"y":0.41,"lo":0.343,"hi":0.48},{"p":"a3","x":76,"y":0.426,"lo":0.338,"hi":0.469},{"p":"a3","x":78,"y":0.42,"lo":0.335,"hi":0.47},{"p":"a3","x":79,"y":0.403,"lo":0.33,"hi":0.469},
{"p":"s3","x":0,"y":1.18,"lo":-0.05,"hi":2.41},{"p":"s3","x":1,"y":1.07,"lo":-0.07,"hi":1.99},{"p":"s3","x":2,"y":0.8,"lo":-0.085,"hi":1.62},{"p":"s3","x":3,"y":0.74,"lo":-0.1,"hi":1.56},{"p":"s3","x":4,"y":0.72,"lo":-0.12,"hi":1.59},{"p":"s3","x":5,"y":0.6,"lo":-0.1,"hi":1.16},{"p":"s3","x":6,"y":0.49,"lo":-0.085,"hi":1.1},{"p":"s3","x":7,"y":0.49,"lo":-0.09,"hi":1.09},{"p":"s3","x":8,"y":0.49,"lo":-0.1,"hi":1.09},{"p":"s3","x":9,"y":0.49,"lo":-0.14,"hi":1.08},{"p":"s3","x":10,"y":0.45,"lo":-0.085,"hi":1.07},{"p":"s3","x":11,"y":0.42,"lo":-0.07,"hi":1.09},{"p":"s3","x":12,"y":0.39,"lo":-0.05,"hi":0.97},{"p":"s3","x":14,"y":0.34,"lo":-0.03,"hi":0.87},{"p":"s3","x":16,"y":0.33,"lo":-0.05,"hi":0.8},{"p":"s3","x":18,"y":0.28,"lo":-0.05,"hi":0.77},{"p":"s3","x":20,"y":0.28,"lo":-0.05,"hi":0.74},{"p":"s3","x":22,"y":0.26,"lo":-0.055,"hi":0.7},{"p":"s3","x":24,"y":0.23,"lo":-0.07,"hi":0.67},{"p":"s3","x":25,"y":0.375,"lo":-0.07,"hi":0.84},{"p":"s3","x":26,"y":0.375,"lo":-0.072,"hi":0.84},{"p":"s3","x":28,"y":0.375,"lo":-0.075,"hi":0.83},{"p":"s3","x":30,"y":0.36,"lo":-0.085,"hi":0.83},{"p":"s3","x":32,"y":0.36,"lo":-0.085,"hi":0.82},{"p":"s3","x":34,"y":0.35,"lo":-0.085,"hi":0.81},{"p":"s3","x":36,"y":0.34,"lo":-0.08,"hi":0.8},{"p":"s3","x":38,"y":0.33,"lo":-0.075,"hi":0.8},{"p":"s3","x":39,"y":0.33,"lo":-0.075,"hi":0.79},{"p":"s3","x":40,"y":0.31,"lo":-0.07,"hi":0.7}
]},
"columns": 5,
"spacing": {"row": 30, "column": 40},
"bounds": "flush",
"concat": [
{"width":132,"height":143,"title":"Walk2d-2","transform":[{"filter":"datum.p==='w1'"}],"resolve":{"axis":{"x":"independent"}},"layer":[
 {"mark":{"type":"area","color":"#0000ff","opacity":0.1},"encoding":{"x":{"field":"x","type":"quantitative","scale":{"domain":[-2.45,51.45]},"axis":{"orient":"top","title":"1e5"}},"y":{"field":"lo","type":"quantitative","scale":{"domain":[-0.05,5.05]},"axis":{"values":[0,1,2,3,4,5],"format":"d","title":"Edge-1","titleX":-16.5,"titleY":78.5,"titleFontSize":8.5,"titleAngle":270,"titleBaseline":"middle","titleAlign":"center"}},"y2":{"field":"hi"}}},
 {"mark":{"type":"line","color":"#0000ff","strokeWidth":1},"encoding":{"x":{"field":"x","type":"quantitative","scale":{"domain":[-2.45,51.45]},"axis":{"orient":"bottom","title":"×10","values":[0,10,20,30,40,50],"format":"d"}},"y":{"field":"y","type":"quantitative","axis":{"values":[0,1,2,3,4,5],"format":"d","title":"Edge-1","titleX":-16.5,"titleY":78.5,"titleFontSize":8.5,"titleAngle":270,"titleBaseline":"middle","titleAlign":"center"}}}}]},
{"width":132,"height":143,"title":"HalfCheetah-2","transform":[{"filter":"datum.p==='h1'"}],"resolve":{"axis":{"x":"independent"}},"layer":[
 {"mark":{"type":"area","color":"#0000ff","opacity":0.1},"encoding":{"x":{"field":"x","type":"quantitative","scale":{"domain":[-1.45,30.45]},"axis":{"orient":"top","title":"1e6"}},"y":{"field":"lo","type":"quantitative","scale":{"domain":[-0.257,1.217]},"axis":{"values":[-0.2,0,0.2,0.4,0.6,0.8,1.0,1.2],"format":".1f","title":null}},"y2":{"field":"hi"}}},
 {"mark":{"type":"line","color":"#0000ff","strokeWidth":1},"encoding":{"x":{"field":"x","type":"quantitative","scale":{"domain":[-1.45,30.45]},"axis":{"orient":"bottom","title":"×10","values":[0,6,12,18,24,30],"format":"d"}},"y":{"field":"y","type":"quantitative","axis":{"values":[-0.2,0,0.2,0.4,0.6,0.8,1.0,1.2],"format":".1f","title":null}}}}]},
{"width":132,"height":143,"title":"Hopper-2","transform":[{"filter":"datum.p==='p1'"}],"resolve":{"axis":{"x":"independent"}},"layer":[
 {"mark":{"type":"area","color":"#0000ff","opacity":0.1},"encoding":{"x":{"field":"x","type":"quantitative","scale":{"domain":[-3.95,82.95]},"axis":{"orient":"top","title":"1e4"}},"y":{"field":"lo","type":"quantitative","scale":{"domain":[-0.15,5.28]},"axis":{"values":[0,1,2,3,4,5],"format":"d","title":null}},"y2":{"field":"hi"}}},
 {"mark":{"type":"line","color":"#0000ff","strokeWidth":1},"encoding":{"x":{"field":"x","type":"quantitative","scale":{"domain":[-3.95,82.95]},"axis":{"orient":"bottom","title":"×10","values":[0,16,32,48,64,80],"format":"d"}},"y":{"field":"y","type":"quantitative","axis":{"values":[0,1,2,3,4,5],"format":"d","title":null}}}}]},
{"width":132,"height":143,"title":"Ant-2","transform":[{"filter":"datum.p==='a1'"}],"resolve":{"axis":{"x":"independent"}},"layer":[
 {"mark":{"type":"area","color":"#0000ff","opacity":0.1},"encoding":{"x":{"field":"x","type":"quantitative","scale":{"domain":[-3.95,82.95]},"axis":{"orient":"top","title":"1e4"}},"y":{"field":"lo","type":"quantitative","scale":{"domain":[0.115,1.075]},"axis":{"values":[0.2,0.4,0.6,0.8,1.0],"format":".1f","title":null}},"y2":{"field":"hi"}}},
 {"mark":{"type":"line","color":"#0000ff","strokeWidth":1},"encoding":{"x":{"field":"x","type":"quantitative","scale":{"domain":[-3.95,82.95]},"axis":{"orient":"bottom","title":"×10","values":[0,16,32,48,64,80],"format":"d"}},"y":{"field":"y","type":"quantitative","axis":{"values":[0.2,0.4,0.6,0.8,1.0],"format":".1f","title":null}}}}]},
{"width":132,"height":143,"title":"Swimmer-2","transform":[{"filter":"datum.p==='s1'"}],"resolve":{"axis":{"x":"independent"}},"layer":[
 {"mark":{"type":"area","color":"#0000ff","opacity":0.1},"encoding":{"x":{"field":"x","type":"quantitative","scale":{"domain":[-1,21]},"axis":{"orient":"top","title":"1e4"}},"y":{"field":"lo","type":"quantitative","scale":{"domain":[-0.02,1.445]},"axis":{"values":[0,0.2,0.4,0.6,0.8,1.0,1.2,1.4],"format":".1f","title":null}},"y2":{"field":"hi"}}},
 {"mark":{"type":"line","color":"#0000ff","strokeWidth":1},"encoding":{"x":{"field":"x","type":"quantitative","scale":{"domain":[-1,21]},"axis":{"orient":"bottom","title":"×10","values":[0,4,8,12,16,20],"format":"d"}},"y":{"field":"y","type":"quantitative","axis":{"values":[0,0.2,0.4,0.6,0.8,1.0,1.2,1.4],"format":".1f","title":null}}}}]},
{"width":132,"height":143,"transform":[{"filter":"datum.p==='w2'"}],"resolve":{"axis":{"x":"independent"}},"layer":[
 {"mark":{"type":"area","color":"#ff0000","opacity":0.11},"encoding":{"x":{"field":"x","type":"quantitative","scale":{"domain":[-2.45,51.45]},"axis":{"orient":"top","title":"1e5"}},"y":{"field":"lo","type":"quantitative","scale":{"domain":[-0.04,3.13]},"axis":{"values":[0,0.5,1,1.5,2,2.5,3],"format":".1f","title":"Edge-2","titleX":-25,"titleY":77.5,"titleFontSize":8.5,"titleAngle":270,"titleBaseline":"middle","titleAlign":"center"}},"y2":{"field":"hi"}}},
 {"mark":{"type":"line","color":"#ff0000","strokeWidth":1},"encoding":{"x":{"field":"x","type":"quantitative","scale":{"domain":[-2.45,51.45]},"axis":{"orient":"bottom","title":"×10","values":[0,10,20,30,40,50],"format":"d"}},"y":{"field":"y","type":"quantitative","axis":{"values":[0,0.5,1,1.5,2,2.5,3],"format":".1f","title":"Edge-2","titleX":-25,"titleY":77.5,"titleFontSize":8.5,"titleAngle":270,"titleBaseline":"middle","titleAlign":"center"}}}}]},
{"width":132,"height":143,"transform":[{"filter":"datum.p==='h2'"}],"resolve":{"axis":{"x":"independent"}},"layer":[
 {"mark":{"type":"area","color":"#ff0000","opacity":0.11},"encoding":{"x":{"field":"x","type":"quantitative","scale":{"domain":[-1.45,30.45]},"axis":{"orient":"top","title":"1e5"}},"y":{"field":"lo","type":"quantitative","scale":{"domain":[-0.12,3.26]},"axis":{"values":[0,0.5,1,1.5,2,2.5,3],"format":".1f","title":null}},"y2":{"field":"hi"}}},
 {"mark":{"type":"line","color":"#ff0000","strokeWidth":1},"encoding":{"x":{"field":"x","type":"quantitative","scale":{"domain":[-1.45,30.45]},"axis":{"orient":"bottom","title":"×10","values":[0,6,12,18,24,30],"format":"d"}},"y":{"field":"y","type":"quantitative","axis":{"values":[0,0.5,1,1.5,2,2.5,3],"format":".1f","title":null}}}}]},
{"width":132,"height":143,"transform":[{"filter":"datum.p==='p2'"}],"resolve":{"axis":{"x":"independent"}},"layer":[
 {"mark":{"type":"area","color":"#ff0000","opacity":0.11},"encoding":{"x":{"field":"x","type":"quantitative","scale":{"domain":[-3.95,82.95]},"axis":{"orient":"top","title":"1e4"}},"y":{"field":"lo","type":"quantitative","scale":{"domain":[0.7,4.16]},"axis":{"values":[1,1.5,2,2.5,3,3.5,4],"format":".1f","title":null}},"y2":{"field":"hi"}}},
 {"mark":{"type":"line","color":"#ff0000","strokeWidth":1},"encoding":{"x":{"field":"x","type":"quantitative","scale":{"domain":[-3.95,82.95]},"axis":{"orient":"bottom","title":"×10","values":[0,16,32,48,64,80],"format":"d"}},"y":{"field":"y","type":"quantitative","axis":{"values":[1,1.5,2,2.5,3,3.5,4],"format":".1f","title":null}}}}]},
{"width":132,"height":143,"transform":[{"filter":"datum.p==='a2'"}],"resolve":{"axis":{"x":"independent"}},"layer":[
 {"mark":{"type":"area","color":"#ff0000","opacity":0.11},"encoding":{"x":{"field":"x","type":"quantitative","scale":{"domain":[-3.95,82.95]},"axis":{"orient":"top","title":"1e4"}},"y":{"field":"lo","type":"quantitative","scale":{"domain":[0.31,1.445]},"axis":{"values":[0.4,0.6,0.8,1.0,1.2,1.4],"format":".1f","title":null}},"y2":{"field":"hi"}}},
 {"mark":{"type":"line","color":"#ff0000","strokeWidth":1},"encoding":{"x":{"field":"x","type":"quantitative","scale":{"domain":[-3.95,82.95]},"axis":{"orient":"bottom","title":"×10","values":[0,16,32,48,64,80],"format":"d"}},"y":{"field":"y","type":"quantitative","axis":{"values":[0.4,0.6,0.8,1.0,1.2,1.4],"format":".1f","title":null}}}}]},
{"width":132,"height":143,"transform":[{"filter":"datum.p==='s2'"}],"resolve":{"axis":{"x":"independent"}},"layer":[
 {"mark":{"type":"area","color":"#ff0000","opacity":0.11},"encoding":{"x":{"field":"x","type":"quantitative","scale":{"domain":[-1,21]},"axis":{"orient":"top","title":"1e5"}},"y":{"field":"lo","type":"quantitative","scale":{"domain":[-0.045,1.745]},"axis":{"values":[0,0.25,0.5,0.75,1,1.25,1.5],"format":".2f","title":null}},"y2":{"field":"hi"}}},
 {"mark":{"type":"line","color":"#ff0000","strokeWidth":1},"encoding":{"x":{"field":"x","type":"quantitative","scale":{"domain":[-1,21]},"axis":{"orient":"bottom","title":"×10","values":[0,4,8,12,16,20],"format":"d"}},"y":{"field":"y","type":"quantitative","axis":{"values":[0,0.25,0.5,0.75,1,1.25,1.5],"format":".2f","title":null}}}}]},
{"width":132,"height":143,"transform":[{"filter":"datum.p==='w3'"}],"resolve":{"axis":{"x":"independent"}},"layer":[
 {"mark":{"type":"area","color":"#008000","opacity":0.1},"encoding":{"x":{"field":"x","type":"quantitative","scale":{"domain":[-2.45,51.45]},"axis":{"orient":"top","title":"1e4"}},"y":{"field":"lo","type":"quantitative","scale":{"domain":[0.2,3.09]},"axis":{"values":[0.5,1,1.5,2,2.5,3],"format":".1f","title":"Interior","titleX":-24,"titleY":71,"titleFontSize":11.5,"titleAngle":270,"titleBaseline":"middle","titleAlign":"center"}},"y2":{"field":"hi"}}},
 {"mark":{"type":"line","color":"#008000","strokeWidth":1},"encoding":{"x":{"field":"x","type":"quantitative","scale":{"domain":[-2.45,51.45]},"axis":{"orient":"bottom","title":"×10","values":[0,10,20,30,40,50],"format":"d"}},"y":{"field":"y","type":"quantitative","axis":{"values":[0.5,1,1.5,2,2.5,3],"format":".1f","title":"Interior","titleX":-24,"titleY":71,"titleFontSize":11.5,"titleAngle":270,"titleBaseline":"middle","titleAlign":"center"}}}}]},
{"width":132,"height":143,"transform":[{"filter":"datum.p==='h3'"}],"resolve":{"axis":{"x":"independent"}},"layer":[
 {"mark":{"type":"area","color":"#008000","opacity":0.1},"encoding":{"x":{"field":"x","type":"quantitative","scale":{"domain":[-2.45,51.45]},"axis":{"orient":"top","title":"1e5"}},"y":{"field":"lo","type":"quantitative","scale":{"domain":[-1.27,8.98]},"axis":{"values":[0,2,4,6,8],"format":"d","title":null}},"y2":{"field":"hi"}}},
 {"mark":{"type":"line","color":"#008000","strokeWidth":1},"encoding":{"x":{"field":"x","type":"quantitative","scale":{"domain":[-2.45,51.45]},"axis":{"orient":"bottom","title":"×10","values":[0,10,20,30,40,50],"format":"d"}},"y":{"field":"y","type":"quantitative","axis":{"values":[0,2,4,6,8],"format":"d","title":null}}}}]},
{"width":132,"height":143,"transform":[{"filter":"datum.p==='p3'"}],"resolve":{"axis":{"x":"independent"}},"layer":[
 {"mark":{"type":"area","color":"#008000","opacity":0.1},"encoding":{"x":{"field":"x","type":"quantitative","scale":{"domain":[-3.95,82.95]},"axis":{"orient":"top","title":"1e4"}},"y":{"field":"lo","type":"quantitative","scale":{"domain":[-0.15,4.26]},"axis":{"values":[0,1,2,3,4],"format":"d","title":null}},"y2":{"field":"hi"}}},
 {"mark":{"type":"line","color":"#008000","strokeWidth":1},"encoding":{"x":{"field":"x","type":"quantitative","scale":{"domain":[-3.95,82.95]},"axis":{"orient":"bottom","title":"×10","values":[0,16,32,48,64,80],"format":"d"}},"y":{"field":"y","type":"quantitative","axis":{"values":[0,1,2,3,4],"format":"d","title":null}}}}]},
{"width":132,"height":143,"transform":[{"filter":"datum.p==='a3'"}],"resolve":{"axis":{"x":"independent"}},"layer":[
 {"mark":{"type":"area","color":"#008000","opacity":0.1},"encoding":{"x":{"field":"x","type":"quantitative","scale":{"domain":[-3.95,82.95]},"axis":{"orient":"top","title":"1e4"}},"y":{"field":"lo","type":"quantitative","scale":{"domain":[0.075,1.48]},"axis":{"values":[0.2,0.4,0.6,0.8,1.0,1.2,1.4],"format":".1f","title":null}},"y2":{"field":"hi"}}},
 {"mark":{"type":"line","color":"#008000","strokeWidth":1},"encoding":{"x":{"field":"x","type":"quantitative","scale":{"domain":[-3.95,82.95]},"axis":{"orient":"bottom","title":"×10","values":[0,16,32,48,64,80],"format":"d"}},"y":{"field":"y","type":"quantitative","axis":{"values":[0.2,0.4,0.6,0.8,1.0,1.2,1.4],"format":".1f","title":null}}}}]},
{"width":132,"height":143,"transform":[{"filter":"datum.p==='s3'"}],"resolve":{"axis":{"x":"independent"}},"layer":[
 {"mark":{"type":"area","color":"#008000","opacity":0.1},"encoding":{"x":{"field":"x","type":"quantitative","scale":{"domain":[-2,42]},"axis":{"orient":"top","title":"1e4"}},"y":{"field":"lo","type":"quantitative","scale":{"domain":[-0.28,2.53]},"axis":{"values":[0,0.5,1,1.5,2,2.5],"format":".1f","title":null}},"y2":{"field":"hi"}}},
 {"mark":{"type":"line","color":"#008000","strokeWidth":1},"encoding":{"x":{"field":"x","type":"quantitative","scale":{"domain":[-2,42]},"axis":{"orient":"bottom","title":"×10","values":[0,8,16,24,32,40],"format":"d"}},"y":{"field":"y","type":"quantitative","axis":{"values":[0,0.5,1,1.5,2,2.5],"format":".1f","title":null}}}}]}
]
}
